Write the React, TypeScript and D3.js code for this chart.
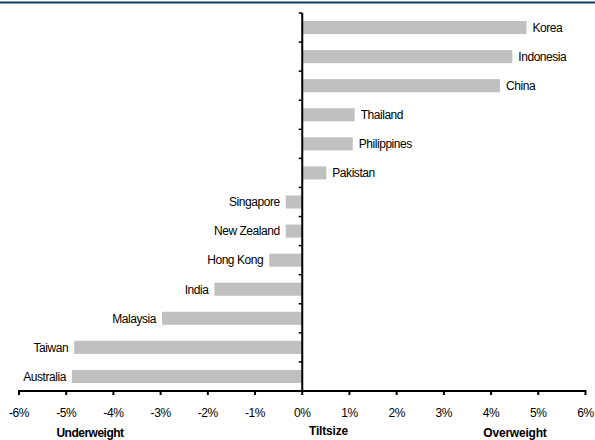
import React from "react";
import * as d3 from "d3";

const categories = [
  "Korea", "Indonesia", "China", "Thailand", "Philippines", "Pakistan",
  "Singapore", "New Zealand", "Hong Kong", "India", "Malaysia", "Taiwan", "Australia",
];
const values = [4.75, 4.45, 4.19, 1.11, 1.07, 0.51, -0.35, -0.35, -0.7, -1.86, -2.97, -4.83, -4.88];
const xTicks = [-6, -5, -4, -3, -2, -1, 0, 1, 2, 3, 4, 5, 6];
const axisTitles = ["Underweight", "Tiltsize", "Overweight"];

const W = 595;
const H = 440;
const font = "'Liberation Sans', Arial, sans-serif";

export default function App() {
  const x = d3.scaleLinear().domain([-6, 6]).range([19, 585.5]);
  const y = d3.scaleBand<string>().domain(categories).range([13, 391]).paddingInner(0.55).paddingOuter(0.275);
  const zero = x(0);
  const axisY = 391;
  const boundaries = d3.range(categories.length + 1).map((i) => 13 + (i * (391 - 13)) / categories.length);
  const fmt = (t: number) => `${t < 0 ? "-" : ""}${Math.abs(t)}%`;

  return (
    <svg width={W} height={H} style={{ position: "absolute", left: 0, top: 0, background: "#fff" }}>
      <line x1={0} x2={W} y1={2.4} y2={2.4} stroke="#0b3d6e" strokeWidth={2} />

      {categories.map((c, i) => {
        const v = values[i];
        const x0 = Math.min(x(v), zero);
        const w = Math.abs(x(v) - zero);
        const cy = (y(c) as number) + y.bandwidth() / 2;
        return (
          <g key={c}>
            <rect x={x0} y={y(c)} width={w} height={y.bandwidth()} fill="#c0c0c0" />
            <text
              x={v >= 0 ? x(v) + 6 : x(v) - 6}
              y={cy}
              dy="0.36em"
              textAnchor={v >= 0 ? "start" : "end"}
              fontFamily={font}
              fontSize={12}
              letterSpacing={-0.45}
              fill="#000"
            >
              {c}
            </text>
          </g>
        );
      })}

      {/* y axis */}
      <line x1={zero} x2={zero} y1={13} y2={axisY} stroke="#000" strokeWidth={2} />
      {boundaries.slice(0, -1).map((b, i) => (
        <line key={i} x1={zero - 3.5} x2={zero} y1={b} y2={b} stroke="#000" strokeWidth={1.5} />
      ))}

      {/* x axis */}
      <line x1={x(-6)} x2={x(6)} y1={axisY} y2={axisY} stroke="#000" strokeWidth={2} />
      {xTicks.map((t) => (
        <g key={t}>
          <line x1={x(t)} x2={x(t)} y1={axisY - 1} y2={axisY + 4} stroke="#000" strokeWidth={2} />
          <text x={x(t)} y={417} textAnchor="middle" fontFamily={font} fontSize={12} letterSpacing={-0.4} fill="#000">
            {fmt(t)}
          </text>
        </g>
      ))}

      <text x={90} y={437} textAnchor="middle" fontFamily={font} fontSize={12} fontWeight="bold" letterSpacing={-0.5} fill="#000">{axisTitles[0]}</text>
      <text x={328.5} y={434.5} textAnchor="middle" fontFamily={font} fontSize={12} fontWeight="bold" letterSpacing={-0.2} fill="#000">{axisTitles[1]}</text>
      <text x={515} y={437} textAnchor="middle" fontFamily={font} fontSize={12} fontWeight="bold" letterSpacing={-0.2} fill="#000">{axisTitles[2]}</text>
    </svg>
  );
}
